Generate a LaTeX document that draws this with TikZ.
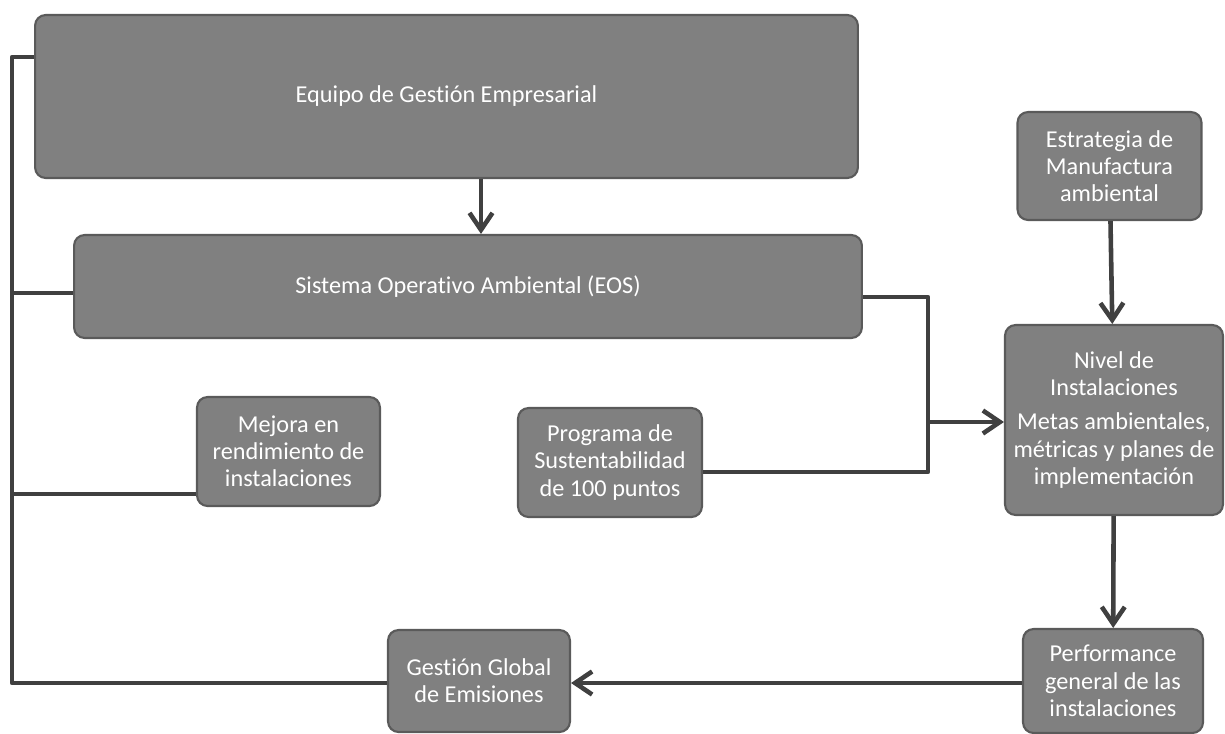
\documentclass[tikz,border=0pt]{standalone}
\usepackage{fontspec}
\setmainfont{Carlito}[Ligatures=NoCommon]
\usetikzlibrary{arrows.meta, positioning}
\definecolor{boxgray}{RGB}{128,128,128}
\definecolor{edgegray}{RGB}{90,90,90}
\definecolor{linegray}{RGB}{64,64,64}
\tikzset{
>={Straight Barb[length=3.4mm, width=4.6mm]}, % open arrow heads
box/.style={rectangle, rounded corners=6pt, fill=boxgray, draw=edgegray, line width=1.2pt, text=white, align=center, font=\fontsize{13.8}{15.5}\selectfont, inner sep=2pt}, % every block of the chart
link/.style={draw=linegray, line width=2.6pt, line join=round}, % the connectors
}
\begin{document}
\begin{tikzpicture}[x=0.02cm, y=-0.02cm]
                \useasboundingbox (0,0) rectangle (1225,734);
                % blocks
                \node[box, minimum width=16.46cm, minimum height=3.26cm] (equipo) at (446.5,96.5) {Equipo de Gestión Empresarial};
                \node[box, minimum width=15.76cm, minimum height=2.06cm] (sistema) at (468,286.5) {Sistema Operativo Ambiental (EOS)};
                \node[box, minimum width=3.68cm, minimum height=2.16cm] (estrategia) at (1109.5,166) {Estrategia de\\Manufactura\\ambiental};
                \node[box, minimum width=4.36cm, minimum height=3.8cm] (nivel) at (1114,420) {Nivel de\\Instalaciones\\[4pt]Metas ambientales,\\métricas y planes de\\implementación};
                \node[box, minimum width=3.66cm, minimum height=2.18cm] (mejora) at (288.5,451.5) {Mejora en\\rendimiento de\\instalaciones};
                \node[box, minimum width=3.68cm, minimum height=2.18cm] (programa) at (610,462.5) {Programa de\\Sustentabilidad\\de 100 puntos};
                \node[box, minimum width=3.64cm, minimum height=2.04cm] (gestion) at (479,681) {Gestión Global\\de Emisiones};
                \node[box, minimum width=3.6cm, minimum height=2.08cm] (performance) at (1113,681) {Performance\\general de las\\instalaciones};
                % points of the connectors
                \coordinate (top) at (12,57);
                \coordinate (bottom) at (12,683);
                \coordinate (join) at (928,422);
                \coordinate (drop) at (481,0);
                \draw[link, ->] (equipo.south -| drop) -- (sistema.north -| drop);
                \draw[link, ->] (estrategia) -- (nivel);
                \draw[link, ->] (nivel) -- (performance);
                \draw[link, ->] (performance.west |- bottom) -- (gestion.east |- bottom);
                \draw[link] (gestion.west |- bottom) -- (bottom) -- (top) -- (top -| equipo.west);
                \draw[link] (12,293) -- (sistema.west |- 0,293);
                \draw[link] (12,494) -- (mejora.west |- 0,494);
                \draw[link] (sistema.east |- 0,297) -| (join);
                \draw[link] (programa.east |- 0,472) -| (join);
                \draw[link, ->] (join) -- (nivel.west |- join);
\end{tikzpicture}
\end{document}
